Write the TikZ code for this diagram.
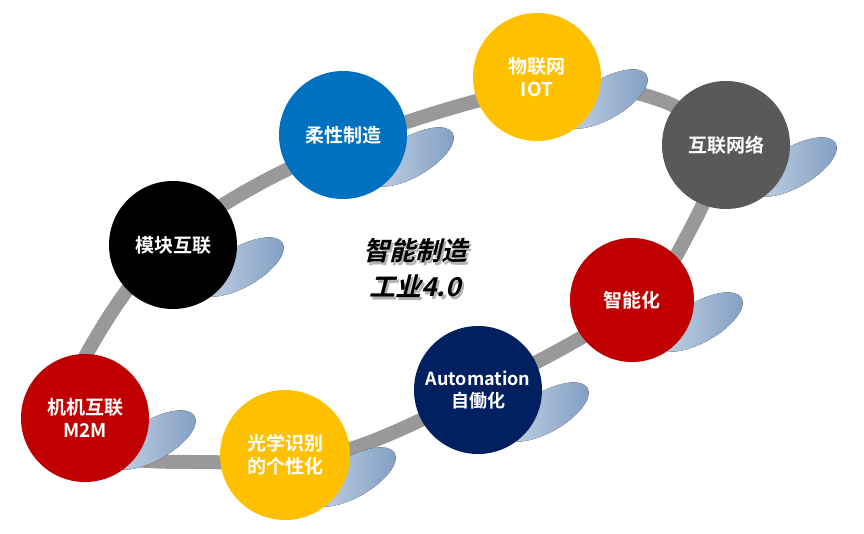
\documentclass[tikz,border=0pt]{standalone}
\usepackage{fontspec}
\setmainfont{Noto Sans CJK SC}[BoldFont={* Bold}]
\newfontfamily\slfont{Noto Sans CJK SC Bold}[FakeSlant=0.25]
\definecolor{cred}{HTML}{C00000}
\definecolor{cyel}{HTML}{FFC000}
\definecolor{cblue}{HTML}{0070C0}
\definecolor{cnavy}{HTML}{002060}
\definecolor{cgray}{HTML}{595959}
\definecolor{sh1}{HTML}{C9D6E6}
\definecolor{sh2}{HTML}{7F9DC2}
\begin{document}
\begin{tikzpicture}[x=1pt,y=-1pt,
  ball/.style={circle,minimum size=128pt,inner sep=0pt,align=center,text=white,font=\bfseries\fontsize{19}{23}\selectfont},
  shad/.style={left color=sh1,right color=sh2},
  ctext/.style={font=\slfont\fontsize{26}{36}\selectfont,align=center}]
\useasboundingbox (0,0) rectangle (864,534);
% ring
\draw[line width=14pt,gray!80] plot[smooth cycle,tension=0.6] coordinates{(60,420) (120,300) (200,220) (343,145) (537,88) (660,100) (715,150) (690,230) (632,305) (478,392) (330,455) (200,462) (110,455)};
% shadows
\foreach \x/\y in {85/418,285/455,478/390,632/300,726/145,537/77,343/135,173/245}{
  \fill[shad,rotate around={30:(\x+68,\y+22)}] (\x+68,\y+22) ellipse[x radius=48,y radius=20];
}
\node[ball,fill=cred] (m2m) at (85,418) {机机互联\\M2M};
\node[ball,fill=cyel,minimum size=130pt] (gx) at (285,455) {光学识别\\的个性化};
\node[ball,fill=cnavy,font=\bfseries\fontsize{18}{22}\selectfont] (auto) at (478,390) {Automation\\自働化};
\node[ball,fill=cred,minimum size=124pt] (zn) at (632,300) {智能化};
\node[ball,fill=cgray] (hl) at (726,145) {互联网络};
\node[ball,fill=cyel] (iot) at (537,77) {物联网\\IOT};
\node[ball,fill=cblue] (rx) at (343,135) {柔性制造};
\node[ball,fill=black] (mk) at (173,245) {模块互联};
\node[ctext,text=gray!60] (cs) at (417.5,271) {智能制造\\工业4.0};
\node[ctext] (c) at (415,268) {智能制造\\工业4.0};
\end{tikzpicture}
\end{document}
